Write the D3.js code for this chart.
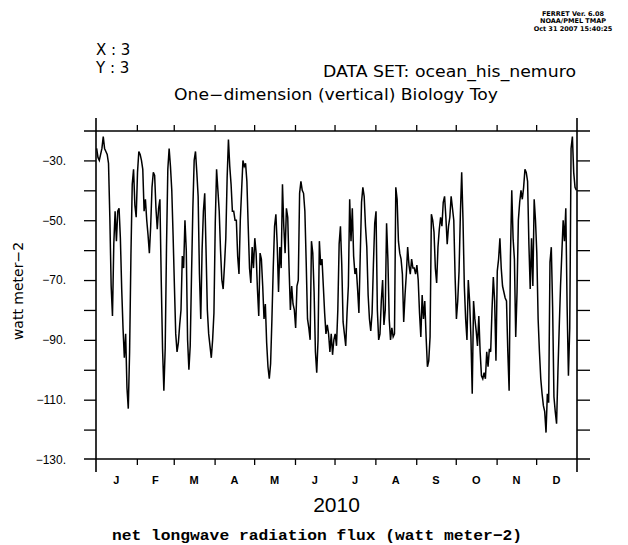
<!DOCTYPE html>
<html>
<head>
<meta charset="utf-8">
<script src="https://cdn.jsdelivr.net/npm/d3@7"></script>
<style>
  html, body { margin: 0; padding: 0; background: #fff; }
  svg { display: block; }
</style>
</head>
<body>
<svg id="chart" width="628" height="545"></svg>
<script>
// Daily net longwave radiation flux (W m-2), one array per month of 2010
const jan = [-26, -29, -30, -28, -26, -22, -26, -27, -28, -31,
             -49, -72, -82, -58, -47, -57, -47, -46, -56, -73,
             -86, -96, -88, -106, -113, -94, -62, -38, -33, -45, -49];
const feb = [-34, -27, -28, -30, -33, -47, -43, -50, -55, -61,
             -52, -39, -34, -35, -46, -53, -46, -43, -70, -93,
             -107, -93, -59, -33, -26, -32, -40, -55];
const mar = [-72, -88, -94, -91, -85, -80, -62, -66, -50, -60,
             -90, -100, -92, -68, -46, -30, -27, -34, -42, -68,
             -83, -60, -47, -41, -60, -80, -88, -92, -96, -90, -81];
const apr = [-51, -33, -40, -47, -60, -70, -73, -65, -56, -36,
             -23, -32, -38, -47, -47, -50, -50, -62, -68, -50,
             -40, -30, -32, -31, -37, -52, -66, -71, -59, -66];
const may = [-56, -61, -73, -82, -61, -63, -72, -83, -78, -91,
             -99, -103, -98, -83, -66, -52, -48, -58, -74, -59,
             -66, -38, -52, -61, -46, -49, -66, -80, -72, -78, -80];
const jun = [-86, -72, -70, -41, -37, -40, -41, -47, -64,
             -83, -86, -90, -57, -61, -74, -94, -101, -90, -57,
             -65, -63, -72, -81, -88, -85, -88, -94, -88, -95, -90];
const jul = [-88, -92, -80, -58, -52, -65, -84, -88, -92, -81,
             -72, -43, -57, -46, -62, -68, -66, -73, -81, -62,
             -44, -39, -42, -52, -59, -75, -83, -87, -81, -65, -51];
const aug = [-47, -80, -90, -88, -77, -70, -85, -80,
             -51, -63, -83, -90, -86, -89, -88, -39, -43, -57,
             -61, -63, -68, -84, -75, -68, -59, -65, -68, -63,
             -66, -66, -68];
const sep = [-65, -70, -81, -89, -75, -83, -77,
             -89, -99, -97, -89, -48, -50, -54, -66, -71, -59,
             -53, -49, -52, -44, -42, -49, -58, -52, -49, -42,
             -46, -50, -69];
const oct = [-83, -77, -67, -48, -34, -50, -72,
             -83, -90, -70, -77, -89, -108, -77, -83, -87, -92,
             -82, -94, -102, -103, -101, -103, -94, -99, -93, -94,
             -80, -69, -77, -97];
const nov = [-67, -63, -56, -66, -72, -74,
             -76, -77, -94, -107, -62, -40, -56, -63, -89, -74,
             -50, -44, -40, -43, -39, -33, -34, -37, -58, -73,
             -56, -72, -43, -50];
const dec = [-61, -83, -94, -103, -108, -112,
             -114, -121, -108, -111, -64, -59, -79, -109, -114, -118,
             -101, -86, -72, -61, -50, -57, -46, -79, -102, -86,
             -26, -22, -34, -39, -40];

const monthLabels = ["J", "F", "M", "A", "M", "J", "J", "A", "S", "O", "N", "D"];
const yLabelTicks = [-30, -50, -70, -90, -110, -130];
const yTicks = [-30, -40, -50, -60, -70, -80, -90, -100, -110, -120];
const yDomain = [-130, -20];
const year = 2010;

const svg = d3.select("#chart");
const plotLeft = 96, plotRight = 577, plotTop = 131, plotBottom = 459;
const ink = "#000";
const sans = "'DejaVu Sans', 'Liberation Sans', sans-serif";
const narrow = "'Liberation Sans', Arial, sans-serif";

const t0 = new Date(Date.UTC(year, 0, 1));
const t1 = new Date(Date.UTC(year + 1, 0, 1));
const x = d3.scaleUtc().domain([t0, t1]).range([plotLeft, plotRight]);
const y = d3.scaleLinear().domain(yDomain).range([plotBottom + 0.5, plotTop - 0.5]);

const values = [].concat(jan, feb, mar, apr, may, jun, jul, aug, sep, oct, nov, dec);
const series = values.map((v, i) => ({
  date: d3.utcHour.offset(d3.utcDay.offset(t0, i), 12),
  v
}));

const monthStarts = d3.utcMonths(t0, t1);

// tick marks (no domain paths; the frame is drawn separately)
function styleAxis(g) {
  g.select(".domain").remove();
  g.selectAll(".tick line").attr("stroke", ink).attr("stroke-width", 1.3);
  g.selectAll(".tick text").remove();
}
svg.append("g").attr("transform", `translate(0,${plotBottom})`)
  .call(d3.axisBottom(x).tickValues(monthStarts.slice(1)).tickSize(6).tickFormat(""))
  .call(styleAxis);
svg.append("g").attr("transform", `translate(0,${plotTop})`)
  .call(d3.axisTop(x).tickValues(monthStarts.slice(1)).tickSize(6).tickFormat(""))
  .call(styleAxis);
svg.append("g").attr("transform", `translate(${plotLeft},0)`)
  .call(d3.axisLeft(y).tickValues(yTicks).tickSize(12).tickFormat(""))
  .call(styleAxis);
svg.append("g").attr("transform", `translate(${plotRight},0)`)
  .call(d3.axisRight(y).tickValues(yTicks).tickSize(13).tickFormat(""))
  .call(styleAxis);

// frame lines overshooting the corners
const frame = svg.append("g").attr("stroke", ink).attr("stroke-width", 1.6);
frame.append("line").attr("x1", plotLeft).attr("x2", plotLeft).attr("y1", plotTop - 13).attr("y2", plotBottom + 13);
frame.append("line").attr("x1", plotRight).attr("x2", plotRight).attr("y1", plotTop - 13).attr("y2", plotBottom + 13);
frame.append("line").attr("x1", plotLeft - 12).attr("x2", plotRight + 13).attr("y1", plotTop).attr("y2", plotTop);
frame.append("line").attr("x1", plotLeft - 12).attr("x2", plotRight + 13).attr("y1", plotBottom).attr("y2", plotBottom);

// data line
svg.append("path")
  .datum(series)
  .attr("fill", "none")
  .attr("stroke", ink)
  .attr("stroke-width", 1.5)
  .attr("d", d3.line().x(d => x(d.date)).y(d => y(d.v)));

// y tick labels
svg.append("g").selectAll("text").data(yLabelTicks).join("text")
  .attr("x", 66)
  .attr("y", d => y(d))
  .attr("dy", "0.36em")
  .attr("text-anchor", "end")
  .attr("font-family", narrow)
  .attr("font-size", 12)
  .attr("fill", ink)
  .text(d => "\u2212" + Math.abs(d) + ".");

// month labels centred in each month
svg.append("g").selectAll("text").data(monthStarts).join("text")
  .attr("x", d => (x(d) + x(d3.utcMonth.offset(d, 1))) / 2)
  .attr("y", 484)
  .attr("text-anchor", "middle")
  .attr("font-family", narrow)
  .attr("font-weight", "bold")
  .attr("font-size", 11)
  .attr("fill", ink)
  .text((d, i) => monthLabels[i]);

// year under the time axis
svg.append("text")
  .attr("x", (plotLeft + plotRight) / 2).attr("y", 512)
  .attr("text-anchor", "middle")
  .attr("font-family", narrow)
  .attr("font-size", 21)
  .attr("fill", ink)
  .text(String(year));

// variable title under the plot
svg.append("text")
  .attr("x", 112).attr("y", 540)
  .attr("font-family", "'Liberation Mono', 'Courier New', monospace")
  .attr("font-weight", "bold")
  .attr("font-size", 15)
  .attr("textLength", 410)
  .attr("lengthAdjust", "spacingAndGlyphs")
  .attr("fill", ink)
  .text("net longwave radiation flux (watt meter\u22122)");

// y axis units
svg.append("text")
  .attr("transform", "translate(23,291) rotate(-90)")
  .attr("text-anchor", "middle")
  .attr("font-family", sans)
  .attr("font-size", 14)
  .attr("fill", ink)
  .text("watt meter\u22122");

// header: location and data set
svg.append("text").attr("x", 96).attr("y", 55)
  .attr("font-family", sans).attr("font-size", 15).attr("fill", ink)
  .text("X : 3");
svg.append("text").attr("x", 96).attr("y", 73)
  .attr("font-family", sans).attr("font-size", 15).attr("fill", ink)
  .text("Y : 3");
svg.append("text").attr("x", 576).attr("y", 77)
  .attr("text-anchor", "end")
  .attr("font-family", sans).attr("font-size", 15).attr("fill", ink)
  .attr("textLength", 253).attr("lengthAdjust", "spacingAndGlyphs")
  .text("DATA SET: ocean_his_nemuro");
svg.append("text").attr("x", 174).attr("y", 100)
  .attr("font-family", sans).attr("font-size", 15).attr("fill", ink)
  .attr("textLength", 324).attr("lengthAdjust", "spacingAndGlyphs")
  .text("One\u2212dimension (vertical) Biology Toy");

// program stamp in the top-right corner
const stamp = ["FERRET Ver. 6.08", "NOAA/PMEL TMAP", "Oct 31 2007 15:40:25"];
svg.append("g").selectAll("text").data(stamp).join("text")
  .attr("x", 573)
  .attr("y", (d, i) => 15.5 + i * 7.5)
  .attr("text-anchor", "middle")
  .attr("font-family", sans)
  .attr("font-weight", "bold")
  .attr("font-size", 6.5)
  .attr("fill", ink)
  .text(d => d);
</script>
</body>
</html>
